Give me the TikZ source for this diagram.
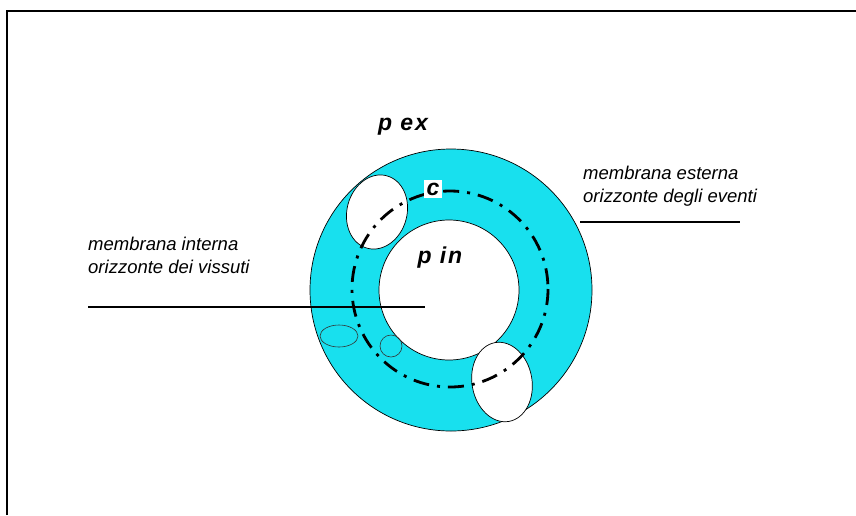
\documentclass[tikz,border=0pt]{standalone}
\usepackage{fontspec}
\setsansfont{Liberation Sans}
\usetikzlibrary{positioning, shapes.geometric}
\definecolor{ringcyan}{HTML}{18E0EE}

\begin{document}
\begin{tikzpicture}[x=1pt, y=-1pt,
    ring/.style={circle, draw=black, line width=0.7pt, inner sep=0pt},
    hole/.style={ellipse, draw=black, line width=0.7pt, fill=white, inner sep=0pt},
    blob/.style={ellipse, draw=black!80, line width=0.6pt, inner sep=0pt},
    orbit/.style={line width=2.8pt, dash pattern=on 16pt off 8pt on 3pt off 8pt},
    lbl/.style={font=\sffamily\itshape\fontsize{18.5}{23}\selectfont, align=left,
                inner sep=0pt, anchor=north west},
    tag/.style={font=\sffamily\bfseries\itshape\fontsize{23}{26}\selectfont\addfontfeatures{LetterSpace=8},
                inner sep=1pt},
    leader/.style={line width=1.6pt},
    frame/.style={line width=2.6pt},
  ]
  \useasboundingbox (0,0) rectangle (856,515);

  % frame
  \draw[frame] (7,515) -- (7,11) -- (856,11);

  % rings
  \node[ring, fill=ringcyan, minimum size=282pt] (outer) at (451,290) {};
  \node[ring, fill=white, minimum size=140pt] (inner) at (449,290) {};

  % white holes in the ring
  \node[hole, minimum width=60pt, minimum height=75pt, rotate=-15] (holeA) at (377,212) {};
  \node[hole, minimum width=60pt, minimum height=80pt, rotate=10] (holeB) at (502,382) {};

  % path c
  \draw[orbit] (450,289) circle (98);

  % small blobs
  \node[blob, minimum width=38pt, minimum height=22pt] (blobA) at (339,336) {};
  \node[blob, minimum width=22pt, minimum height=22pt] (blobB) at (391,346) {};

  % labels
  \node[tag] (pex) at (403,127) {p ex};
  \node[tag] (pin) at (440,258) {p in};
  \node[tag, fill=white, inner sep=3pt] (cc) at (433,189) {c};

  \node[lbl] (exlbl) at (583,166) {membrana esterna\\orizzonte degli eventi};
  \node[lbl] (inlbl) at (88,237) {membrana interna\\orizzonte dei vissuti};

  % leaders
  \coordinate (exend) at (580,222);
  \coordinate (exstop) at (740,222);
  \coordinate (inend) at (425,307);
  \draw[leader] (exend) -- (exstop);
  \draw[leader] (inend -| inlbl.west) -- (inend);

\end{tikzpicture}
\end{document}
